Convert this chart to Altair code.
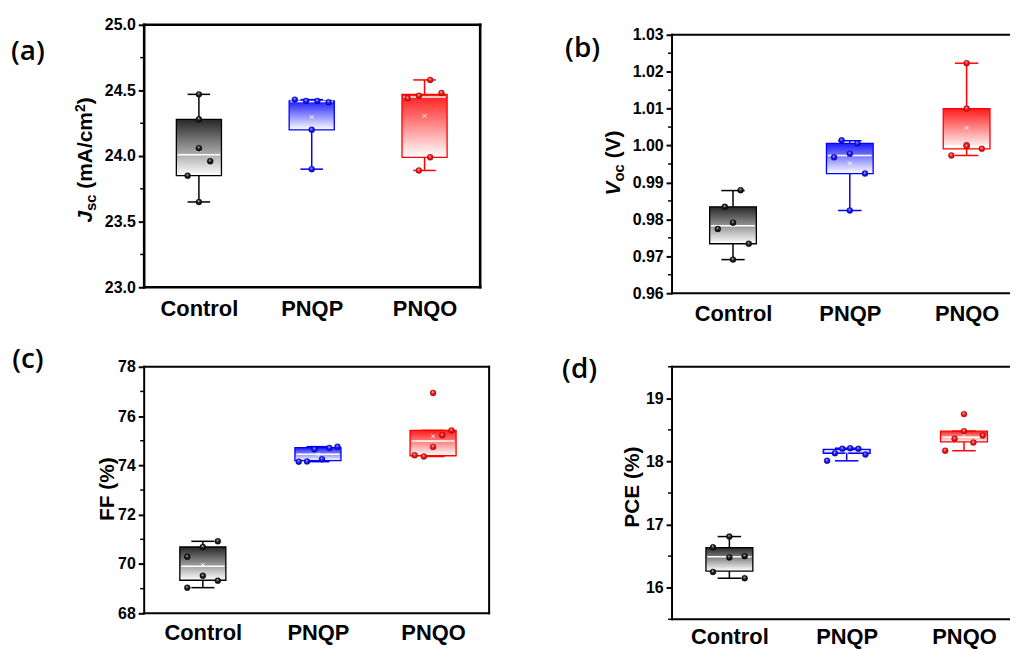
import altair as alt
import pandas as pd

FONT = "Liberation Sans"
CATS = ["Control", "PNQP", "PNQO"]
LINE_COLORS = ["#000000", "#0000ff", "#ff0000"]
BOX_TOP = ["#262626", "#1a1aff", "#ff1a1a"]
BALL_MID = ["#2a2a2a", "#2626ff", "#ff2626"]
BALL_DARK = ["#000000", "#0000a8", "#a80000"]

# ---------------- (a) Jsc ----------------
JSC = [[24.47, 24.28, 24.06, 23.96, 23.85, 23.65],
       [24.43, 24.42, 24.42, 24.41, 24.20, 23.90],
       [24.58, 24.48, 24.46, 24.44, 23.99, 23.89]]
JSC_JIT = [[0, 0, 0, 0.10, -0.10, 0],
           [-0.15, -0.05, 0.05, 0.15, 0, 0],
           [0.05, 0.15, -0.05, -0.15, 0.05, -0.05]]
JSC_Q1 = [23.85, 24.20, 23.99]
JSC_Q3 = [24.28, 24.42, 24.47]
JSC_MED = [24.01, 24.415, 24.45]
JSC_MEAN = [24.045, 24.297, 24.307]
JSC_LO = [23.65, 23.90, 23.89]
JSC_HI = [24.47, 24.43, 24.58]
JSC_TICKS = [23.0, 23.5, 24.0, 24.5, 25.0]
JSC_MINOR = [23.25, 23.75, 24.25, 24.75]

# ---------------- (b) Voc ----------------
VOC = [[0.9879, 0.9834, 0.9791, 0.9774, 0.9734, 0.9691],
       [1.0014, 1.0006, 0.9978, 0.9968, 0.9924, 0.9824],
       [1.0223, 1.0100, 1.0001, 0.9998, 0.9991, 0.9973]]
VOC_JIT = [[0.065, -0.07, 0, -0.13, 0.135, 0],
           [-0.07, 0.065, 0, -0.135, 0.13, 0],
           [0, 0, 0, 0, 0.13, -0.13]]
VOC_Q1 = [0.9734, 0.9924, 0.9991]
VOC_Q3 = [0.9834, 1.0006, 1.0100]
VOC_MED = [0.97825, 0.99729, 0.99995]
VOC_MEAN = [0.97838, 0.99521, 1.00477]
VOC_LO = [0.9691, 0.9824, 0.9973]
VOC_HI = [0.9878, 1.0013, 1.0223]
VOC_TICKS = [0.96, 0.97, 0.98, 0.99, 1.00, 1.01, 1.02, 1.03]
VOC_MINOR = [0.965, 0.975, 0.985, 0.995, 1.005, 1.015, 1.025]

# ---------------- (c) FF ----------------
FF = [[70.92, 70.69, 70.29, 69.52, 69.32, 69.04],
      [74.15, 74.16, 74.65, 74.25, 74.71, 74.76],
      [76.94, 75.42, 75.22, 74.75, 74.41, 74.36]]
FF_JIT = [[0.13, 0, -0.135, 0, 0.13, -0.135],
          [-0.167, -0.095, -0.03, 0.035, 0.10, 0.17],
          [0, 0.16, 0.08, 0, -0.16, -0.08]]
FF_Q1 = [69.34, 74.19, 74.39]
FF_Q3 = [70.69, 74.72, 75.42]
FF_MED = [69.905, 74.45, 74.985]
FF_MEAN = [69.963, 74.447, 75.183]
FF_LO = [69.04, 74.15, 74.36]
FF_HI = [70.92, 74.76, 75.42]
FF_TICKS = [68, 70, 72, 74, 76, 78]
FF_MINOR = [69, 71, 73, 75, 77]

# ---------------- (d) PCE ----------------
PCE = [[16.81, 16.64, 16.50, 16.48, 16.25, 16.15],
       [18.01, 18.13, 18.20, 18.21, 18.20, 18.11],
       [18.75, 18.48, 18.41, 18.36, 18.30, 18.17]]
PCE_JIT = [[0, -0.14, 0.13, 0, -0.14, 0.13],
           [-0.167, -0.10, -0.037, 0.03, 0.10, 0.16],
           [0, 0, 0.16, -0.08, 0.08, -0.16]]
PCE_Q1 = [16.264, 18.13, 18.31]
PCE_Q3 = [16.635, 18.19, 18.48]
PCE_MED = [16.49, 18.165, 18.385]
PCE_MEAN = [16.472, 18.143, 18.412]
PCE_LO = [16.15, 18.01, 18.17]
PCE_HI = [16.81, 18.21, 18.48]
PCE_TICKS = [16, 17, 18, 19]
PCE_MINOR = [15.5, 16.5, 17.5, 18.5, 19.5]

BOX_HALF = 0.2
CAP_HALF = 0.1
XPATH = "M-1,-1L1,1M-1,1L1,-1"

# Liberation Sans Bold advance widths (per em)
CW = {" ": 0.278, "(": 0.333, ")": 0.333, "m": 0.889, "A": 0.722,
      "/": 0.278, "c": 0.556, "s": 0.556, "o": 0.611, "V": 0.667, "J": 0.556,
      "2": 0.556, "F": 0.611, "%": 0.889, "P": 0.667, "C": 0.722, "E": 0.667}


def seg_width(t, fs):
    return sum(CW.get(ch, 0.6) for ch in t) * fs


def box_grad(c):
    return alt.LinearGradient(
        gradient="linear", x1=0, y1=0, x2=0, y2=1,
        stops=[alt.GradientStop(offset=0, color=c),
               alt.GradientStop(offset=1, color="#ffffff")])


def ball_grad(mid, dark):
    return alt.RadialGradient(
        gradient="radial", x1=0.42, y1=0.32, r1=0, x2=0.5, y2=0.5, r2=0.55,
        stops=[alt.GradientStop(offset=0, color="#ffffff"),
               alt.GradientStop(offset=0.38, color=mid),
               alt.GradientStop(offset=1, color=dark)])


def panel(vals, jit, q1, q3, med, mean, lo, hi, ydom, frame, yticks, yminor,
          fmt, W, H, xdom, fw, right_frame, labpad, letter, lpos, segs,
          tbase, tcenter, anchor=False):
    xs = alt.Scale(domain=xdom, nice=False, zero=False)
    ys = alt.Scale(domain=ydom, nice=False, zero=False)
    label_expr = "[" + ",".join("'%s'" % c for c in CATS) + "][datum.value-1]"
    xaxis = alt.Axis(values=[1, 2, 3], labelExpr=label_expr, domain=False,
                     ticks=False, tickSize=0, grid=False, title=None,
                     labelFont=FONT, labelFontSize=22, labelFontWeight="bold",
                     labelColor="black", labelPadding=labpad,
                     labelFlush=False, labelOverlap=False)
    yaxis = alt.Axis(values=yticks, format=fmt, domain=False, grid=False,
                     ticks=True, tickSize=6, tickWidth=2, tickColor="black",
                     title=None, labelFont=FONT, labelFontSize=16,
                     labelFontWeight="bold", labelColor="black",
                     labelPadding=3, labelFlush=False, labelOverlap=False)

    def X(f):
        return alt.X(f, type="quantitative", scale=xs, axis=xaxis)

    def Y(f):
        return alt.Y(f, type="quantitative", scale=ys, axis=yaxis)

    layers = []
    # per-category boxes
    for k in range(3):
        pos = k + 1
        c = LINE_COLORS[k]
        st = pd.DataFrame({"pos": [pos], "q1": [q1[k]], "q3": [q3[k]],
                           "med": [med[k]], "mean": [mean[k]],
                           "lo": [lo[k]], "hi": [hi[k]]})
        base = alt.Chart(st).transform_calculate(
            xl="datum.pos-%f" % BOX_HALF, xr="datum.pos+%f" % BOX_HALF,
            ml="datum.pos-%f" % (BOX_HALF - 0.012), mr="datum.pos+%f" % (BOX_HALF - 0.012),
            cl="datum.pos-%f" % CAP_HALF, cr="datum.pos+%f" % CAP_HALF)
        layers.append(base.mark_rule(color=c, strokeWidth=1.5).encode(
            x=X("pos"), y=Y("lo"), y2="q1"))
        layers.append(base.mark_rule(color=c, strokeWidth=1.5).encode(
            x=X("pos"), y=Y("q3"), y2="hi"))
        layers.append(base.mark_rect(fill=box_grad(BOX_TOP[k]), stroke=c,
                                     strokeWidth=1.3).encode(
            x=X("xl"), x2="xr", y=Y("q1"), y2="q3"))
        layers.append(base.mark_rule(color="white", strokeWidth=1.5).encode(
            x=X("ml"), x2="mr", y=Y("med")))
        layers.append(base.mark_point(shape=XPATH, size=14, stroke="white",
                                      strokeWidth=0.9, filled=False,
                                      opacity=1).encode(
            x=X("pos"), y=Y("mean")))
        layers.append(base.mark_rule(color=c, strokeWidth=1.5).encode(
            x=X("cl"), x2="cr", y=Y("lo")))
        layers.append(base.mark_rule(color=c, strokeWidth=1.5).encode(
            x=X("cl"), x2="cr", y=Y("hi")))
        pts = pd.DataFrame({"v": vals[k], "j": jit[k]})
        pts["x"] = pos + pts["j"]
        layers.append(alt.Chart(pts).mark_circle(
            size=36, opacity=1, fill=ball_grad(BALL_MID[k], BALL_DARK[k]),
            stroke=BALL_DARK[k], strokeWidth=0.4).encode(x=X("x"), y=Y("v")))

    # frame
    fr = alt.Chart(pd.DataFrame({"lo": [frame[0]], "hi": [frame[1]]}))
    layers.append(fr.mark_rule(color="black", strokeWidth=fw, strokeCap="square").encode(
        x=alt.value(0), x2=alt.value(W), y=Y("lo")))
    layers.append(fr.mark_rule(color="black", strokeWidth=fw, strokeCap="square").encode(
        x=alt.value(0), x2=alt.value(W), y=Y("hi")))
    layers.append(fr.mark_rule(color="black", strokeWidth=fw, strokeCap="square").encode(
        x=alt.value(0), y=Y("lo"), y2="hi"))
    if right_frame:
        layers.append(fr.mark_rule(color="black", strokeWidth=fw, strokeCap="square").encode(
            x=alt.value(W), y=Y("lo"), y2="hi"))
    # minor ticks
    layers.append(alt.Chart(pd.DataFrame({"m": yminor})).mark_rule(
        color="black", strokeWidth=1.5).encode(
        x=alt.value(-4), x2=alt.value(0), y=Y("m")))

    one = pd.DataFrame({"d": [0]})
    # panel letter
    layers.append(alt.Chart(one).mark_text(
        text=letter, font="Open Sans", fontSize=28, fontWeight=600,
        align="center", baseline="middle", color="black").encode(
        x=alt.value(lpos[0]), y=alt.value(lpos[1])))
    # rotated y title built from segments (for sub/superscripts)
    # each segment: (text, fontsize, style, baseline shift, gap before in em)
    total = sum(seg_width(t, fs) + gap * fs for t, fs, st_, sh, gap in segs)
    ycur = tcenter + total / 2.0
    for t, fs, style, shift, gap in segs:
        ycur -= gap * fs
        layers.append(alt.Chart(one).mark_text(
            text=t, font=FONT, fontSize=fs, fontWeight="bold", fontStyle=style,
            angle=270, align="left", baseline="alphabetic", color="black").encode(
            x=alt.value(tbase + shift), y=alt.value(ycur)))
        ycur -= seg_width(t, fs)
    if anchor:
        layers.append(alt.Chart(one).mark_rect(opacity=0).encode(
            x=alt.value(-137), x2=alt.value(-136), y=alt.value(-15), y2=alt.value(-14)))
    return alt.layer(*layers).properties(width=W, height=H)


pa = panel(JSC, JSC_JIT, JSC_Q1, JSC_Q3, JSC_MED, JSC_MEAN, JSC_LO, JSC_HI,
           [23.0, 25.0], [23.0, 25.0], JSC_TICKS, JSC_MINOR, ".1f",
           338, 264, [0.515, 3.493], 2.6, True, 11, "(a)", (-117, 27),
           [("J", 21, "italic", 0, 0), ("sc", 15, "normal", 4, 0),
            ("(mA/cm", 21, "normal", 0, 0.278), ("2", 14, "normal", -8, 0),
            (")", 21, "normal", 0, 0)], -52, 136, anchor=True)

pb = panel(VOC, VOC_JIT, VOC_Q1, VOC_Q3, VOC_MED, VOC_MEAN, VOC_LO, VOC_HI,
           [0.96, 0.96 + 270 / 3714.3], [0.96, 1.03], VOC_TICKS, VOC_MINOR, ".2f",
           339, 270, [0.478, 3.363], 2, False, 10, "(b)", (-90, 24),
           [("V", 21, "italic", 0, 0), ("oc", 15, "normal", 4, 0),
            ("(V)", 21, "normal", 0, 0.278)], -52, 139)

pc = panel(FF, FF_JIT, FF_Q1, FF_Q3, FF_MED, FF_MEAN, FF_LO, FF_HI,
           [68, 78], [68, 78], FF_TICKS, FF_MINOR, "d",
           347, 248, [0.4905, 3.487], 2, True, 9, "(c)", (-117, -7),
           [("FF (%)", 21, "normal", 0, 0)], -30, 123)

pd_ = panel(PCE, PCE_JIT, PCE_Q1, PCE_Q3, PCE_MED, PCE_MEAN, PCE_LO, PCE_HI,
            [15.5, 19.5], [15.5, 19.5], PCE_TICKS, PCE_MINOR, "d",
            339, 254, [0.511, 3.384], 2, False, 7, "(d)", (-93, 3),
            [("PCE (%)", 21, "normal", 0, 0)], -33, 121)

chart = alt.concat(pa, pb, pc, pd_, columns=2,
                   spacing={"row": 74, "column": 184},
                   bounds="flush").properties(
    padding=0, background="white").configure_view(stroke=None)

chart.save("out.html", embed_options={"renderer": "svg", "actions": False})
